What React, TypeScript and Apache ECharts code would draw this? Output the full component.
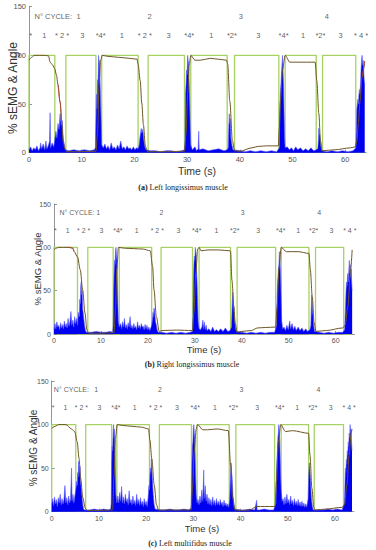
import React, { useEffect, useRef } from "react";
import * as echarts from "echarts";

// ---------- data ----------
const xTicks = [0, 10, 20, 30, 40, 50, 60];
const yTicks = [0, 50, 100, 150];
const cycleHeader = "N° CYCLE:";
const cycleLabels = ["1", "2", "3", "4"];
const cycleTimes = [9.4, 22.9, 40.2, 56.5];
const phaseLabels = ["*", "1", "* 2 *", "3", "*4*", "1", "* 2 *", "3", "*4*", "1", "*2*", "3", "*4*", "1", "*2*", "3", "* 4 *"];
const phaseTimes = [0.3, 2.9, 6.3, 10.1, 13.6, 17.6, 22, 26.5, 30.4, 34.6, 38.5, 43.5, 48.3, 52, 55.3, 59.1, 63];
const captionLetters = ["(a)", "(b)", "(c)"];
const captionTexts = ["Left longissimus muscle", "Right longissimus muscle", "Left multifidus muscle"];

// green on/off edges (s)
const greenEdgesA = [0, 4.9, 7, 12.7, 13.8, 20.7, 22.6, 29.5, 30.7, 37.6, 39, 47.4, 48.6, 54.5, 55.7, 62];
const greenEdgesB = [0, 5, 7.2, 12.6, 13.9, 20.8, 22.8, 29.5, 30.9, 37.6, 39, 47.2, 48.4, 54.3, 55.7, 61.7];
const greenEdgesC = [0, 5.1, 7.2, 12.7, 13.8, 20.7, 22.8, 29.6, 30.8, 37.6, 39, 47.2, 48.6, 54.4, 55.6, 61.8];

// angle (%)
const angleA = [[0,95],[0.5,98],[1,100],[2,100],[3,100],[3.7,99.5],[4,93],[4.5,90],[4.9,86],[5.2,80],[5.5,70],[5.9,52],[6.2,31],[6.5,11],[6.8,4],[7.1,1],[9,1],[12.7,1.5],[13,20],[13.3,70],[13.6,95],[13.9,100],[15,99],[17,98],[19,97],[20.5,96],[20.7,91],[21.1,74],[21.4,51],[21.7,29],[22.1,6],[22.5,1],[26,1],[29.5,1.5],[29.8,20],[30.1,60],[30.4,90],[30.7,100],[31.5,95],[32.5,95],[33.5,96],[34.4,97],[36,96],[37.5,95],[37.7,91],[38.1,53],[38.6,12],[39,2],[40,1.5],[42.3,5],[43.5,6.5],[45,7],[47.3,7],[47.5,25],[47.7,53],[48.1,85],[48.6,100],[49.5,93],[51,93],[54.3,93],[54.6,74],[55,40],[55.3,12],[55.6,2],[58,3],[61,5],[61.9,6],[62.2,12],[62.5,30],[62.8,53],[63.2,78],[63.7,94]];
const angleB = [[0,97],[0.5,99],[1,100],[3,100],[4,99],[4.3,95],[5,89],[5.6,74],[6.1,51],[6.6,24],[7,5],[7.3,1],[10,1],[12.8,1.5],[13.1,30],[13.4,75],[13.7,100],[15,99],[17,98.5],[19,98],[20.5,96],[21,78],[21.3,51],[21.8,20],[22.4,3],[23,4],[26,4.5],[29.5,4],[29.8,25],[30.2,70],[30.6,98],[30.9,100],[31.3,96],[32.8,97],[35,97],[37.5,96],[37.6,95],[37.9,62],[38.3,32],[38.6,12],[39,2],[40,3],[42,4],[43.4,7],[45,7.5],[47.2,8],[47.5,30],[47.9,75],[48.4,100],[49.5,95],[52,95],[54.3,93],[54.6,74],[55,43],[55.4,13],[55.8,3],[58,4],[61.5,7],[62,10],[62.6,32],[63.1,70],[63.5,97]];
const angleC = [[0,95.5],[0.7,98],[1.5,100],[3,100],[4.2,95],[4.9,91.6],[5.4,80],[5.8,61],[6.1,39],[6.6,16],[7.1,4],[7.5,1.5],[10,1.5],[12.9,2],[13.2,40],[13.5,85],[13.9,100],[15,99],[17,98],[19,97],[20.5,95],[20.8,82],[21.2,61],[21.7,31],[22.2,8],[22.6,2],[26,2],[29.5,2],[29.8,25],[30.2,70],[30.6,95],[30.9,100],[32,94],[33,94],[35,95],[37.4,93],[37.9,53],[38.3,16],[38.8,2],[40,1.5],[42,2],[43.4,6],[45,6],[47.3,6],[47.6,35],[48,80],[48.5,100],[49.5,92],[51,93],[54.4,90],[54.7,65],[55.1,27],[55.5,5],[55.8,2],[58,3],[61.5,5],[62,8],[62.5,30],[63,65],[63.4,90],[63.6,95]];

// red angle overlays
const redA1 = [[5.5,70],[5.9,52],[6.2,31]];
const redA2 = [[63.2,78],[63.7,94]];
const redB1 = [[2.8,100],[3.5,100],[4,99],[4.3,95]];

// sEMG (%)
const emgA = [[0,3],[0.3,6],[0.6,2],[0.9,5],[1.2,3],[1.5,7],[1.8,2],[2.1,5],[2.2,10],[2.4,4],[2.7,9],[3,3],[3.2,12],[3.4,4],[3.7,8],[3.9,12],[4,41],[4.1,5],[4.4,10],[4.7,6],[4.9,14],[5.1,22],[5.3,15],[5.5,30],[5.7,24],[5.9,40],[6.1,28],[6.3,33],[6.5,14],[6.7,8],[6.9,3],[7.5,2],[8.5,3],[9.5,2],[10.5,3],[11.5,2],[12.4,3],[12.6,5],[12.8,60],[12.9,45],[13,75],[13.1,70],[13.2,100],[13.3,90],[13.4,95],[13.5,70],[13.6,50],[13.7,30],[13.8,8],[14.1,5],[14.4,9],[14.7,4],[15,7],[15.3,3],[15.6,10],[15.9,4],[16.2,6],[16.5,3],[16.8,8],[17.1,4],[17.4,12],[17.7,4],[18,6],[18.3,3],[18.6,7],[18.9,4],[19.2,5],[19.5,3],[19.8,6],[20.1,3],[20.4,5],[20.7,4],[20.9,8],[21.1,18],[21.3,25],[21.4,20],[21.6,24],[21.8,12],[22,6],[22.2,3],[23,2],[24,2],[25,1],[26,2],[27,2],[28,1],[29,2],[29.5,3],[29.6,10],[29.7,60],[29.8,70],[29.9,85],[30,80],[30.1,100],[30.2,95],[30.3,90],[30.4,70],[30.5,50],[30.6,25],[30.7,8],[31,3],[31.5,6],[31.8,2],[32.1,4],[32.2,22],[32.3,3],[33,4],[34,2],[35,3],[36,4],[37,2],[37.6,3],[37.8,5],[37.9,25],[38,40],[38.1,30],[38.2,35],[38.3,15],[38.5,8],[38.7,3],[40,2],[41,1],[42,2],[43,1],[44,2],[45,1],[46,2],[47,1],[47.5,5],[47.6,40],[47.7,60],[47.8,70],[47.9,80],[48,90],[48.1,100],[48.2,85],[48.3,70],[48.4,40],[48.5,15],[48.6,5],[49,6],[49.4,3],[49.8,5],[50.2,2],[50.6,6],[51,3],[51.5,5],[52,2],[52.5,4],[53,2],[53.5,5],[54,2],[54.5,3],[54.8,4],[54.9,12],[55,25],[55.1,20],[55.2,18],[55.4,6],[55.6,2],[56.5,1],[57.5,2],[58.5,1],[59.5,2],[60.5,1],[61.5,2],[62,5],[62.1,20],[62.2,45],[62.3,50],[62.4,55],[62.5,50],[62.6,60],[62.7,65],[62.8,60],[62.9,70],[63,85],[63.1,95],[63.2,100],[63.3,90],[63.4,95],[63.5,85],[63.6,75],[63.7,70]];
const emgB = [[0,5],[0.2,12],[0.4,6],[0.6,14],[0.8,8],[1,10],[1.2,5],[1.4,13],[1.6,7],[1.8,11],[2,6],[2.2,15],[2.4,8],[2.6,12],[2.8,7],[3,18],[3.2,9],[3.4,14],[3.6,26],[3.8,10],[4,16],[4.2,8],[4.4,20],[4.6,12],[4.8,18],[5,10],[5.2,25],[5.4,20],[5.5,40],[5.6,35],[5.7,55],[5.8,60],[5.9,45],[6,50],[6.1,30],[6.3,20],[6.5,10],[6.7,4],[6.9,2],[8,2],[9,3],[10,2],[11,2],[12,3],[12.5,2],[12.6,10],[12.7,50],[12.8,70],[12.9,85],[13,80],[13.1,95],[13.2,100],[13.3,90],[13.4,85],[13.5,60],[13.6,35],[13.7,15],[13.9,8],[14.2,12],[14.4,6],[14.6,14],[14.8,8],[15,18],[15.2,7],[15.4,11],[15.6,6],[15.8,13],[16,8],[16.2,20],[16.4,7],[16.6,10],[16.8,6],[17,12],[17.2,7],[17.4,9],[17.6,5],[17.8,14],[18,7],[18.2,10],[18.4,6],[18.6,12],[18.8,8],[19,9],[19.2,5],[19.4,11],[19.6,6],[19.8,10],[20,5],[20.2,8],[20.4,4],[20.6,7],[20.8,10],[21,18],[21.1,25],[21.2,20],[21.3,30],[21.4,28],[21.5,22],[21.6,15],[21.8,10],[22,4],[22.2,2],[23,2],[24,1],[25,2],[26,1],[27,2],[28,1],[29,2],[29.5,3],[29.6,20],[29.7,60],[29.8,80],[29.9,90],[30,85],[30.1,100],[30.2,95],[30.3,90],[30.4,70],[30.5,55],[30.6,35],[30.7,15],[30.9,6],[31.2,5],[31.5,8],[31.7,16],[31.8,6],[32,14],[32.2,5],[32.4,10],[32.6,4],[33,6],[33.4,3],[33.8,8],[34.2,3],[34.6,5],[35,3],[35.5,6],[36,3],[36.5,7],[37,3],[37.5,4],[37.8,8],[37.9,25],[38,40],[38.1,48],[38.2,35],[38.3,30],[38.4,20],[38.6,10],[38.8,3],[40,2],[41,1],[42,2],[43,1],[44,2],[45,1],[46,2],[47,2],[47.4,10],[47.5,40],[47.6,55],[47.7,65],[47.8,75],[47.9,80],[48,95],[48.1,85],[48.2,75],[48.3,60],[48.4,35],[48.5,15],[48.7,6],[49,8],[49.3,4],[49.6,10],[49.9,5],[50.2,15],[50.4,6],[50.7,12],[51,5],[51.3,9],[51.6,4],[52,8],[52.4,4],[52.8,7],[53.2,3],[53.6,6],[54,3],[54.5,5],[54.7,10],[54.8,30],[54.9,45],[55,35],[55.1,25],[55.2,20],[55.3,10],[55.5,3],[56.5,2],[57.5,1],[58.5,2],[59.5,1],[60.5,2],[61.5,2],[61.9,5],[62,20],[62.1,35],[62.2,50],[62.3,60],[62.4,55],[62.5,65],[62.6,70],[62.7,60],[62.8,75],[62.9,85],[63,70],[63.1,80],[63.2,65],[63.3,75],[63.4,60],[63.5,50]];
const emgC = [[0,8],[0.2,15],[0.4,7],[0.6,17],[0.8,9],[1,14],[1.2,6],[1.4,16],[1.6,10],[1.8,20],[2,8],[2.2,15],[2.4,9],[2.6,14],[2.8,30],[3,10],[3.2,16],[3.4,8],[3.6,18],[3.8,10],[4,15],[4.2,50],[4.3,12],[4.5,20],[4.7,10],[4.9,18],[5.1,25],[5.3,35],[5.4,30],[5.5,45],[5.6,40],[5.7,58],[5.8,50],[5.9,45],[6,52],[6.1,35],[6.3,25],[6.5,12],[6.7,4],[6.9,2],[8,2],[9,3],[10,2],[11,3],[12,2],[12.5,3],[12.6,10],[12.7,55],[12.8,75],[12.9,70],[13,90],[13.1,100],[13.2,85],[13.3,95],[13.4,70],[13.5,45],[13.6,20],[13.8,10],[14,18],[14.2,10],[14.4,22],[14.6,12],[14.8,29],[15,10],[15.2,17],[15.4,9],[15.6,20],[15.8,11],[16,15],[16.2,8],[16.4,24],[16.6,10],[16.8,14],[17,8],[17.2,18],[17.4,9],[17.6,13],[17.8,7],[18,20],[18.2,9],[18.4,14],[18.6,7],[18.8,16],[19,8],[19.2,12],[19.4,6],[19.6,15],[19.8,8],[20,12],[20.2,6],[20.4,15],[20.6,30],[20.7,25],[20.8,40],[20.9,50],[21,45],[21.1,61],[21.2,50],[21.3,40],[21.4,30],[21.5,20],[21.7,8],[21.9,3],[23,2],[24,2],[25,3],[26,2],[27,2],[28,3],[29,2],[29.5,4],[29.6,20],[29.7,55],[29.8,75],[29.9,80],[30,95],[30.1,100],[30.2,90],[30.3,85],[30.4,65],[30.5,40],[30.6,20],[30.8,10],[31,14],[31.2,8],[31.4,18],[31.6,10],[31.8,25],[32,12],[32.2,48],[32.3,15],[32.5,30],[32.7,12],[32.9,20],[33.1,9],[33.3,16],[33.5,8],[33.7,14],[33.9,7],[34.1,17],[34.3,8],[34.5,13],[34.7,7],[34.9,15],[35.1,8],[35.3,12],[35.5,7],[35.7,14],[35.9,8],[36.1,11],[36.3,6],[36.5,13],[36.7,7],[36.9,10],[37.1,6],[37.3,9],[37.5,5],[37.7,15],[37.8,30],[37.9,45],[38,56],[38.1,45],[38.2,40],[38.3,28],[38.4,18],[38.6,8],[38.8,3],[40,2],[41,2],[42,3],[43,2],[43.4,13],[43.5,2],[44,2],[45,3],[46,2],[47,2],[47.5,10],[47.6,45],[47.7,60],[47.8,70],[47.9,85],[48,90],[48.1,100],[48.2,90],[48.3,80],[48.4,60],[48.5,40],[48.6,25],[48.8,12],[49,15],[49.2,8],[49.4,17],[49.6,9],[49.8,20],[50,10],[50.2,14],[50.4,8],[50.6,18],[50.8,9],[51,13],[51.2,7],[51.4,15],[51.6,8],[51.8,12],[52,7],[52.2,14],[52.4,7],[52.6,11],[52.8,6],[53,12],[53.2,6],[53.4,10],[53.6,5],[53.8,9],[54,5],[54.3,15],[54.4,35],[54.5,50],[54.6,56],[54.7,45],[54.8,38],[54.9,25],[55,15],[55.2,6],[55.4,2],[56.5,2],[57.5,2],[58.5,3],[59.5,2],[60.5,3],[61.5,2],[62,10],[62.1,30],[62.2,50],[62.3,45],[62.4,60],[62.5,55],[62.6,70],[62.7,65],[62.8,80],[62.9,75],[63,90],[63.1,85],[63.2,100],[63.3,90],[63.4,95],[63.5,80],[63.6,70]];

// ---------- layout ----------
const panels = [
  { emg: emgA, angle: angleA, edges: greenEdgesA, reds: [redA1, redA2], headerT: 0.95,
    grid: { left: 29, top: 6.7, width: 337.3, height: 146 }, tick: 7.5, ann: 7.5,
    yl: { x: 13, y: 88, fs: 12 }, tl: { x: 197, y: 171, fs: 10.5 }, cap: { x: 183, y: 187 } },
  { emg: emgB, angle: angleB, edges: greenEdgesB, reds: [redB1], headerT: 1.06,
    grid: { left: 54, top: 204, width: 300.5, height: 130 }, tick: 7, ann: 7,
    yl: { x: 37, y: 269, fs: 9.5 }, tl: { x: 204, y: 349, fs: 9.5 }, cap: { x: 192, y: 364 } },
  { emg: emgC, angle: angleC, edges: greenEdgesC, reds: [], headerT: 0.35,
    grid: { left: 51.7, top: 381, width: 302.2, height: 130.7 }, tick: 7, ann: 7,
    yl: { x: 33, y: 448, fs: 10 }, tl: { x: 202, y: 528, fs: 9.5 }, cap: { x: 190, y: 543 } },
];

const SANS = "'Liberation Sans', Arial, sans-serif";
const SERIF = "'Liberation Serif', 'Times New Roman', serif";

function stepData(edges: number[], tEnd: number) {
  const out: number[][] = [];
  edges.forEach((e, i) => {
    const before = i % 2 === 0 ? 0 : 100;
    out.push([e, before], [e, 100 - before]);
  });
  out.push([tEnd, edges.length % 2 === 0 ? 0 : 100]);
  return out;
}

function buildOption() {
  const grid: any[] = [];
  const xAxis: any[] = [];
  const yAxis: any[] = [];
  const series: any[] = [];
  const graphic: any[] = [];
  panels.forEach((p, i) => {
    grid.push({ ...p.grid });
    const axisCommon = {
      gridIndex: i,
      type: "value",
      axisLine: { show: true, lineStyle: { color: "#7a7a7a", width: 0.8 } },
      axisTick: { show: true, inside: true, length: 3, lineStyle: { color: "#7a7a7a", width: 0.8 } },
      splitLine: { show: false },
    };
    xAxis.push({
      ...axisCommon, min: xTicks[0], max: 64, interval: 10,
      axisLabel: { fontSize: p.tick, color: "#555", fontFamily: SANS, margin: 3, showMaxLabel: false,
        formatter: (v: number) => (xTicks.includes(v) ? String(v) : "") },
    });
    yAxis.push({
      ...axisCommon, min: yTicks[0], max: yTicks[yTicks.length - 1], interval: 50,
      axisLabel: { fontSize: p.tick, color: "#555", fontFamily: SANS, margin: 3 },
    });
    const lastT = p.emg[p.emg.length - 1][0];
    series.push({
      type: "line", xAxisIndex: i, yAxisIndex: i, data: stepData(p.edges, lastT), symbol: "none",
      lineStyle: { color: "#a7d163", width: 1.3 }, z: 1, silent: true,
    });
    series.push({
      type: "line", xAxisIndex: i, yAxisIndex: i, data: p.emg, symbol: "none",
      lineStyle: { color: "#5a5aff", width: 0.6 }, areaStyle: { color: "#0000f0", opacity: 1 }, z: 2, silent: true,
    });
    series.push({
      type: "line", xAxisIndex: i, yAxisIndex: i, data: p.angle, symbol: "none", smooth: 0.3, smoothMonotone: "x",
      lineStyle: { color: "#6e5626", width: 1 }, z: 3, silent: true,
    });
    p.reds.forEach((r) => {
      series.push({
        type: "line", xAxisIndex: i, yAxisIndex: i, data: r, symbol: "none", smooth: 0.3, smoothMonotone: "x",
        lineStyle: { color: "#b8403a", width: 0.9, opacity: 0.85 }, z: 4, silent: true,
      });
    });
    const annLabel = { show: true, position: "inside", fontSize: p.ann, color: "#333", fontFamily: SANS, formatter: "{b}" };
    series.push({
      type: "scatter", xAxisIndex: i, yAxisIndex: i, symbolSize: 1, itemStyle: { color: "rgba(0,0,0,0)" }, z: 5, silent: true,
      label: annLabel,
      data: [
        ...phaseTimes.map((t, k) => ({ name: phaseLabels[k], value: [t, 120] })),
        ...cycleTimes.map((t, k) => ({ name: cycleLabels[k], value: [t, 140] })),
        { name: cycleHeader, value: [p.headerT, 140], label: { align: "left", position: "right", distance: 0 } },
      ],
    });
    graphic.push({
      type: "text", x: p.yl.x, y: p.yl.y, rotation: Math.PI / 2,
      style: { text: "% sEMG & Angle", fontSize: p.yl.fs, fontFamily: SANS, fill: "#333", align: "center", verticalAlign: "middle" },
    });
    graphic.push({
      type: "text", x: p.tl.x, y: p.tl.y,
      style: { text: "Time (s)", fontSize: p.tl.fs, fontFamily: SANS, fill: "#333", align: "center", verticalAlign: "middle" },
    });
    graphic.push({
      type: "text", x: p.cap.x, y: p.cap.y,
      style: {
        text: `{b|${captionLetters[i]}} ${captionTexts[i]}`, fontSize: 8, fontFamily: SERIF, fill: "#222",
        align: "center", verticalAlign: "middle",
        rich: { b: { fontWeight: "bold", fontSize: 8, fontFamily: SERIF, fill: "#222" } },
      },
    });
  });
  return { animation: false, backgroundColor: "#fff", grid, xAxis, yAxis, series, graphic };
}

export default function App() {
  const ref = useRef<HTMLDivElement>(null);
  useEffect(() => {
    if (!ref.current) return;
    const chart = echarts.init(ref.current, null, { renderer: "svg" });
    chart.setOption(buildOption() as any);
    return () => chart.dispose();
  }, []);
  return <div ref={ref} style={{ position: "fixed", left: 0, top: 0, width: 376, height: 550 }} />;
}
